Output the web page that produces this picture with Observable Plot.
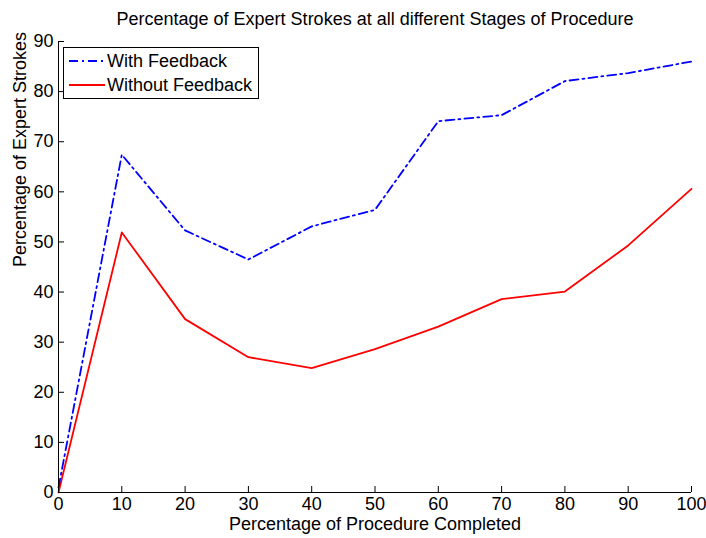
<!DOCTYPE html>
<html>
<head>
<meta charset="utf-8">
<script src="https://cdn.jsdelivr.net/npm/d3@7"></script>
<script src="https://cdn.jsdelivr.net/npm/@observablehq/plot@0.6"></script>
<style>
  html, body { margin: 0; padding: 0; background: #fff; }
  #wrap { position: relative; width: 706px; height: 538px; font-family: "Liberation Sans", Arial, sans-serif; }
  #legend { position: absolute; left: 63px; top: 47px; width: 194px; height: 50px; border: 1px solid #000; background: #fff; font-size: 18px; color: #000; }
  #legend .row { position: absolute; left: 5px; height: 22px; display: flex; align-items: center; }
  #legend svg { margin-right: 2px; }
</style>
</head>
<body>
<div id="wrap"></div>
<script>
const titleText = "Percentage of Expert Strokes at all different Stages of Procedure";
const xLabel = "Percentage of Procedure Completed";
const yLabel = "Percentage of Expert Strokes";
const seriesNames = ["With Feedback", "Without Feedback"];
const stages = [0, 10, 20, 30, 40, 50, 60, 70, 80, 90, 100];
const withFeedback = [1, 67.4, 52.3, 46.5, 53.1, 56.4, 74.1, 75.3, 82.1, 83.7, 86.0];
const withoutFeedback = [0, 51.9, 34.6, 27.0, 24.8, 28.6, 33.1, 38.6, 40.1, 49.3, 60.6];
const xTicks = [0, 10, 20, 30, 40, 50, 60, 70, 80, 90, 100];
const yTicks = [0, 10, 20, 30, 40, 50, 60, 70, 80, 90];

const colors = ["#0000ff", "#ff0000"];
const dashes = ["9,4,2,4", null];

const rows = [];
stages.forEach((s, i) => {
  rows.push({series: seriesNames[0], x: s, y: withFeedback[i]});
  rows.push({series: seriesNames[1], x: s, y: withoutFeedback[i]});
});

const font = "Liberation Sans, Arial, sans-serif";

const chart = Plot.plot({
  width: 706,
  height: 538,
  marginTop: 41,
  marginLeft: 58,
  marginRight: 15,
  marginBottom: 46,
  style: {fontFamily: font, fontSize: "18px", color: "#000", background: "#fff"},
  x: {domain: [0, 100], ticks: xTicks},
  y: {domain: [0, 90], ticks: yTicks},
  marks: [
    Plot.line(rows.filter(d => d.series === seriesNames[1]), {x: "x", y: "y", stroke: colors[1], strokeWidth: 1.8}),
    Plot.line(rows.filter(d => d.series === seriesNames[0]), {x: "x", y: "y", stroke: colors[0], strokeWidth: 1.8, strokeDasharray: dashes[0]}),
    Plot.ruleY([0], {stroke: "#000", strokeWidth: 1}),
    Plot.ruleX([0], {stroke: "#000", strokeWidth: 1}),
    Plot.axisX({ticks: xTicks, tickSize: 6, insetBottom: 6, tickFormat: () => "", label: null, stroke: "#000"}),
    Plot.axisY({ticks: yTicks, tickSize: 6, insetLeft: 6, tickFormat: () => "", label: null, stroke: "#000"}),
    Plot.axisX({ticks: xTicks, tickSize: 0, tickPadding: 5, label: null, fill: "#000"}),
    Plot.axisY({ticks: yTicks, tickSize: 0, tickPadding: 5, label: null, fill: "#000"}),
    Plot.text([titleText], {frameAnchor: "top", dy: -22, lineAnchor: "middle", fontSize: 18, fill: "#000", text: d => d}),
    Plot.text([xLabel], {frameAnchor: "bottom", dy: 32, lineAnchor: "middle", fontSize: 18, fill: "#000", text: d => d}),
    Plot.text([yLabel], {frameAnchor: "left", dx: -38, rotate: -90, lineAnchor: "middle", fontSize: 18, fill: "#000", text: d => d})
  ]
});

const wrap = document.getElementById("wrap");
wrap.appendChild(chart);

const legend = document.createElement("div");
legend.id = "legend";
seriesNames.forEach((name, i) => {
  const row = document.createElement("div");
  row.className = "row";
  row.style.top = (i === 0 ? 2 : 26) + "px";
  const svg = d3.create("svg").attr("width", 36).attr("height", 6);
  svg.append("line").attr("x1", 0).attr("x2", 36).attr("y1", 3).attr("y2", 3)
    .attr("stroke", colors[i]).attr("stroke-width", 1.8)
    .attr("stroke-dasharray", dashes[i]);
  row.appendChild(svg.node());
  const span = document.createElement("span");
  span.textContent = name;
  row.appendChild(span);
  legend.appendChild(row);
});
wrap.appendChild(legend);
</script>
</body>
</html>
